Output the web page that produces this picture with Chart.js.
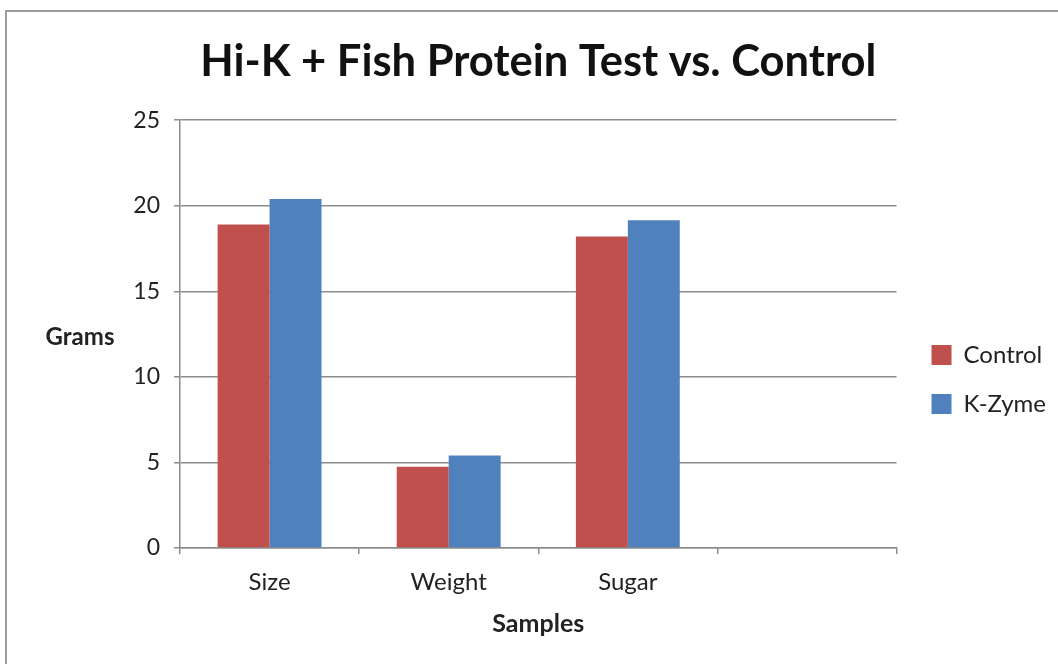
<!DOCTYPE html>
<html>
<head>
<meta charset="utf-8">
<script src="https://cdn.jsdelivr.net/npm/chart.js@4.4.1/dist/chart.umd.min.js"></script>
<style>
  html, body { margin: 0; padding: 0; background: #fff; overflow: hidden; }
  #wrap { position: relative; width: 1058px; height: 664px; }
  #frame { position: absolute; left: 5px; top: 10px; width: 1100px; height: 700px; border: 2px solid #9a9a9a; box-sizing: border-box; }
  canvas { position: absolute; left: 0; top: 0; }
</style>
</head>
<body>
<div id="wrap">
  <div id="frame"></div>
  <canvas id="chart" width="1058" height="664"></canvas>
</div>
<script>
const categories = ['Size', 'Weight', 'Sugar', ''];
const control = [18.9, 4.75, 18.2, null];
const kzyme = [20.4, 5.4, 19.15, null];
const yTicks = { min: 0, max: 25, step: 5 };

const FONT = 'Lato, "Open Sans", sans-serif';
const GRID = '#8c8c8c';

// horizontal "Grams" label on the left
const yTitle = {
  id: 'yTitle',
  afterDraw(chart) {
    const { ctx, chartArea } = chart;
    ctx.save();
    ctx.font = 'bold 24px ' + FONT;
    ctx.fillStyle = '#222';
    ctx.textAlign = 'center';
    ctx.textBaseline = 'middle';
    ctx.fillText('Grams', 80, (chartArea.top + chartArea.bottom) / 2 + 3);
    ctx.restore();
  }
};

// nudge the legend block to where Excel put it
const legendNudge = {
  id: 'legendNudge',
  afterLayout(chart) {
    const lg = chart.legend;
    lg.left += 10; lg.right += 10;
    lg.top += 58; lg.bottom += 58;
  }
};

new Chart(document.getElementById('chart'), {
  type: 'bar',
  data: {
    labels: categories,
    datasets: [
      { label: 'Control', data: control, backgroundColor: '#C0504D' },
      { label: 'K-Zyme', data: kzyme, backgroundColor: '#4F81BD' }
    ]
  },
  options: {
    responsive: false,
    animation: false,
    layout: { padding: { left: 0, right: 12, top: 0, bottom: 21 } },
    datasets: { bar: { categoryPercentage: 0.58, barPercentage: 1.0 } },
    plugins: {
      title: {
        display: true,
        fullSize: false,
        text: 'Hi-K + Fish Protein Test vs. Control',
        font: { family: FONT, size: 43.5, weight: 'bold' },
        color: '#111',
        padding: { top: 36, bottom: 32 }
      },
      legend: {
        position: 'right',
        labels: {
          font: { family: FONT, size: 24 },
          color: '#222',
          boxWidth: 20,
          boxHeight: 20,
          padding: 25
        }
      },
      tooltip: { enabled: false }
    },
    scales: {
      x: {
        afterFit(s) { s.height = 95; },
        grid: { offset: true, drawOnChartArea: false, color: GRID, lineWidth: 1.5, tickLength: 6 },
        border: { color: GRID, width: 1.5 },
        ticks: { font: { family: FONT, size: 24 }, color: '#222', padding: 14 },
        title: {
          display: true,
          text: 'Samples',
          font: { family: FONT, size: 25, weight: 'bold' },
          color: '#222',
          padding: { top: 4 }
        }
      },
      y: {
        min: yTicks.min,
        max: yTicks.max,
        afterFit(s) { s.width = 180; },
        grid: { color: GRID, lineWidth: 1.5, tickLength: 6 },
        border: { color: GRID, width: 1.5 },
        ticks: { stepSize: yTicks.step, font: { family: FONT, size: 23 }, color: '#222', padding: 14 }
      }
    }
  },
  plugins: [yTitle, legendNudge]
});
</script>
</body>
</html>
